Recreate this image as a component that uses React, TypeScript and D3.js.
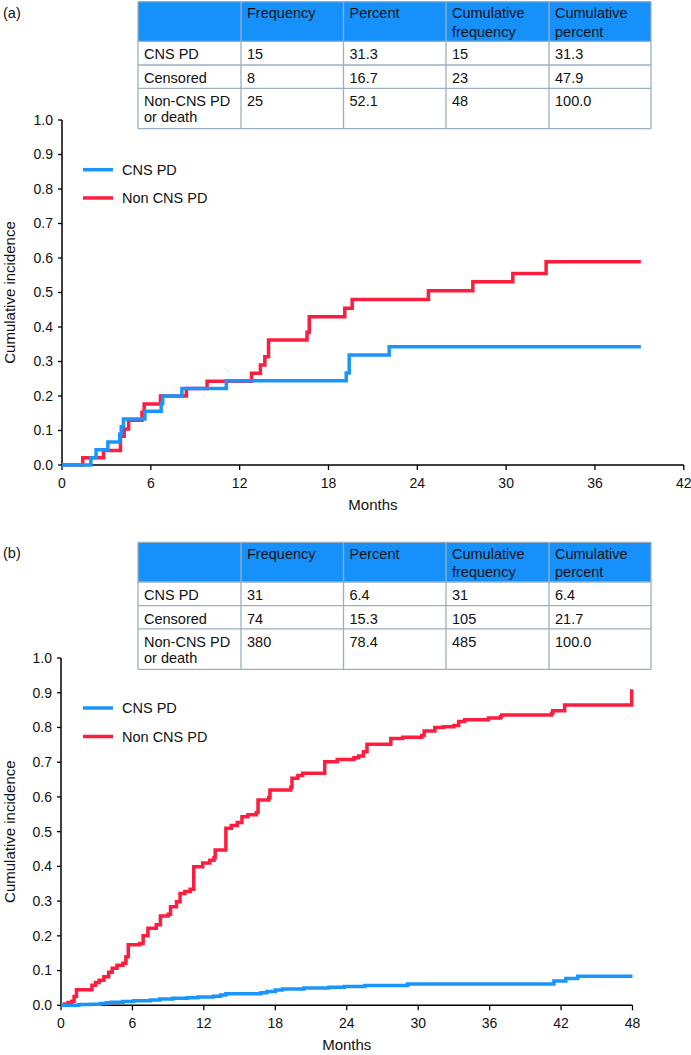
import React from "react";
import * as d3 from "d3";

// ---------- Data ----------
const headerLabels = ["", "Frequency", "Percent", "Cumulative\nfrequency", "Cumulative\npercent"];
const rowLabels = ["CNS PD", "Censored", "Non-CNS PD\nor death"];
const tableValuesA = [
  ["15", "31.3", "15", "31.3"],
  ["8", "16.7", "23", "47.9"],
  ["25", "52.1", "48", "100.0"],
];
const tableValuesB = [
  ["31", "6.4", "31", "6.4"],
  ["74", "15.3", "105", "21.7"],
  ["380", "78.4", "485", "100.0"],
];
const seriesNames = ["CNS PD", "Non CNS PD"];
const yTicks = [0, 0.1, 0.2, 0.3, 0.4, 0.5, 0.6, 0.7, 0.8, 0.9, 1.0];
const xTicksA = [0, 6, 12, 18, 24, 30, 36, 42];
const xTicksB = [0, 6, 12, 18, 24, 30, 36, 42, 48];

// Panel (a): [month, cumulative incidence] step points
const cnsA: [number, number][] = [
  [0, 0], [1.95, 0.021], [2.3, 0.044], [3.1, 0.067], [3.9, 0.089], [4.0, 0.111], [4.15, 0.133],
  [5.6, 0.156], [6.7, 0.178], [6.8, 0.2], [8.1, 0.222], [11.1, 0.244], [19.2, 0.267],
  [19.4, 0.319], [22.1, 0.343], [39.1, 0.343],
];
const nonCnsA: [number, number][] = [
  [0, 0], [1.4, 0.021], [2.8, 0.042], [3.95, 0.083], [4.2, 0.104], [4.5, 0.13], [5.4, 0.153],
  [5.55, 0.177], [6.65, 0.2], [8.4, 0.222], [9.8, 0.243], [12.8, 0.266], [13.4, 0.29],
  [13.7, 0.314], [13.95, 0.362], [16.55, 0.385], [16.7, 0.43], [19.1, 0.454], [19.6, 0.48],
  [24.75, 0.505], [27.75, 0.531], [30.45, 0.555], [32.7, 0.589], [39.1, 0.589],
];

// Panel (b)
const cnsB: [number, number][] = [
  [0, 0], [1.5, 0.002], [2.5, 0.003], [3.3, 0.005], [3.8, 0.007], [4.2, 0.009], [5.2, 0.011],
  [6.1, 0.013], [7.5, 0.015], [8.3, 0.018], [9.4, 0.02], [10.6, 0.022], [11.5, 0.024],
  [12.8, 0.026], [13.4, 0.03], [13.85, 0.033], [16.8, 0.036], [17.3, 0.04], [18.0, 0.044],
  [18.6, 0.047], [20.4, 0.05], [22.5, 0.052], [23.8, 0.054], [25.5, 0.057], [29.1, 0.061],
  [41.4, 0.07], [42.4, 0.077], [43.4, 0.084], [48, 0.084],
];
const nonCnsB: [number, number][] = [
  [0, 0], [0.3, 0.004], [0.6, 0.008], [0.9, 0.012], [1.1, 0.025], [1.3, 0.045], [2.6, 0.058],
  [2.9, 0.066], [3.2, 0.072], [3.6, 0.082], [4.0, 0.095], [4.3, 0.107], [4.7, 0.115],
  [5.2, 0.121], [5.45, 0.14], [5.65, 0.174], [6.6, 0.178], [6.9, 0.2], [7.3, 0.222],
  [8.0, 0.232], [8.35, 0.257], [9.0, 0.262], [9.2, 0.284], [9.7, 0.298], [10.0, 0.322],
  [10.4, 0.328], [10.85, 0.334], [11.15, 0.399], [11.9, 0.41], [12.5, 0.418], [12.85, 0.425],
  [12.95, 0.447], [13.85, 0.51], [14.3, 0.518], [14.8, 0.526], [15.2, 0.543], [15.7, 0.549],
  [16.4, 0.555], [16.55, 0.591], [17.45, 0.598], [17.55, 0.62], [19.3, 0.628], [19.4, 0.654],
  [19.9, 0.662], [20.3, 0.668], [22.15, 0.701], [23.2, 0.708], [24.6, 0.713], [25.0, 0.718],
  [25.4, 0.73], [25.7, 0.752], [27.7, 0.768], [28.7, 0.772], [30.3, 0.777], [30.5, 0.79],
  [31.4, 0.8], [32.1, 0.802], [33.0, 0.806], [33.4, 0.817], [33.9, 0.822], [35.9, 0.827],
  [36.9, 0.831], [37.0, 0.836], [41.2, 0.841], [41.3, 0.848], [42.3, 0.865], [47.93, 0.91],
];

// ---------- Styles ----------
const FONT = "'Liberation Sans', Arial, Helvetica, sans-serif";
const BLUE = "#1a95fb";
const RED = "#fc1d3f";
const HEADER_BLUE = "#1691fc";
const BORDER = "#9ab0c0";

const colX = [138, 241, 343.5, 446, 549, 651];
const rowOffsets = [0, 39.7, 63.3, 86.6, 127];

function Table({ top, values }: { top: number; values: string[][] }) {
  const rows = rowOffsets.map((o) => top + o);
  const fs = 14.5;
  return (
    <g fontFamily={FONT} fontSize={fs} fill="#111">
      <rect x={colX[0]} y={rows[0]} width={colX[5] - colX[0]} height={rows[1] - rows[0]} fill={HEADER_BLUE} />
      {rows.map((y, i) => (
        <line key={"h" + i} x1={colX[0]} x2={colX[5]} y1={y} y2={y} stroke={BORDER} strokeWidth={1.3} />
      ))}
      {colX.map((x, i) => (
        <line key={"v" + i} x1={x} x2={x} y1={rows[0]} y2={rows[4]} stroke={BORDER} strokeWidth={1.3} />
      ))}
      {headerLabels.map((h, ci) =>
        h.split("\n").map((line, li) => (
          <text key={"ht" + ci + li} x={colX[ci] + 6} y={rows[0] + 16.5 + li * 18.5}>{line}</text>
        ))
      )}
      {rowLabels.map((lab, ri) =>
        lab.split("\n").map((line, li) => (
          <text key={"rl" + ri + li} x={colX[0] + 6} y={rows[ri + 1] + 18 + li * 16}>{line}</text>
        ))
      )}
      {values.map((row, ri) =>
        row.map((v, ci) => (
          <text key={"c" + ri + ci} x={colX[ci + 1] + 6} y={rows[ri + 1] + 18}>{v}</text>
        ))
      )}
    </g>
  );
}

function Plot({
  xDomain, xRange, yRange, xTicks, cns, nonCns,
}: {
  xDomain: [number, number]; xRange: [number, number]; yRange: [number, number];
  xTicks: number[]; cns: [number, number][]; nonCns: [number, number][];
}) {
  const x = d3.scaleLinear().domain(xDomain).range(xRange);
  const y = d3.scaleLinear().domain([0, 1]).range(yRange);
  const line = d3.line<[number, number]>().x((d) => x(d[0])).y((d) => y(d[1])).curve(d3.curveStepAfter);
  const x0 = xRange[0];
  const y0 = yRange[0];
  const fmt = d3.format(".1f");
  const legendY1 = y(0.856);
  const legendY2 = y(0.774);
  return (
    <g fontFamily={FONT}>
      {/* axes */}
      <line x1={x0} x2={x0} y1={y(1)} y2={y0} stroke="#000" strokeWidth={1.5} />
      <line x1={x0} x2={xRange[1]} y1={y0} y2={y0} stroke="#000" strokeWidth={1.5} />
      {yTicks.map((t) => (
        <g key={"y" + t}>
          <line x1={x0 - 4} x2={x0} y1={y(t)} y2={y(t)} stroke="#000" strokeWidth={1.3} />
          <text x={x0 - 9} y={y(t)} dy="0.35em" textAnchor="end" fontSize={14} fill="#111">{fmt(t)}</text>
        </g>
      ))}
      {xTicks.map((t) => (
        <g key={"x" + t}>
          <line x1={x(t)} x2={x(t)} y1={y0} y2={y0 + 5} stroke="#000" strokeWidth={1.3} />
          <text x={x(t)} y={y0 + 23} textAnchor="middle" fontSize={14} fill="#111">{t}</text>
        </g>
      ))}
      <text x={(xRange[0] + xRange[1]) / 2} y={y0 + 45} textAnchor="middle" fontSize={15} fill="#111">Months</text>
      <text
        transform={`translate(15,${(y(1) + y0) / 2}) rotate(-90)`}
        textAnchor="middle" fontSize={15} fill="#111"
      >Cumulative incidence</text>
      {/* curves */}
      <path d={line(nonCns) || ""} fill="none" stroke={RED} strokeWidth={3.5} />
      <path d={line(cns) || ""} fill="none" stroke={BLUE} strokeWidth={3.5} />
      {/* legend */}
      <line x1={83} x2={113} y1={legendY1} y2={legendY1} stroke={BLUE} strokeWidth={3.5} />
      <text x={122} y={legendY1} dy="0.35em" fontSize={14.5} fill="#111">{seriesNames[0]}</text>
      <line x1={83} x2={113} y1={legendY2} y2={legendY2} stroke={RED} strokeWidth={3.5} />
      <text x={122} y={legendY2} dy="0.35em" fontSize={14.5} fill="#111">{seriesNames[1]}</text>
    </g>
  );
}

export default function App() {
  return (
    <svg
      width={691}
      height={1055}
      viewBox="0 0 691 1055"
      style={{ position: "absolute", left: 0, top: 0, background: "#fff" }}
    >
      <rect width={691} height={1055} fill="#fff" />
      <text x={3} y={18} fontFamily={FONT} fontSize={14.5} fill="#111">(a)</text>
      <Table top={1.7} values={tableValuesA} />
      <Plot xDomain={[0, 42]} xRange={[62, 683.8]} yRange={[465, 120]} xTicks={xTicksA} cns={cnsA} nonCns={nonCnsA} />
      <text x={3} y={558} fontFamily={FONT} fontSize={14.5} fill="#111">(b)</text>
      <Table top={542.3} values={tableValuesB} />
      <Plot xDomain={[0, 48]} xRange={[61, 632.5]} yRange={[1005.3, 658]} xTicks={xTicksB} cns={cnsB} nonCns={nonCnsB} />
    </svg>
  );
}
